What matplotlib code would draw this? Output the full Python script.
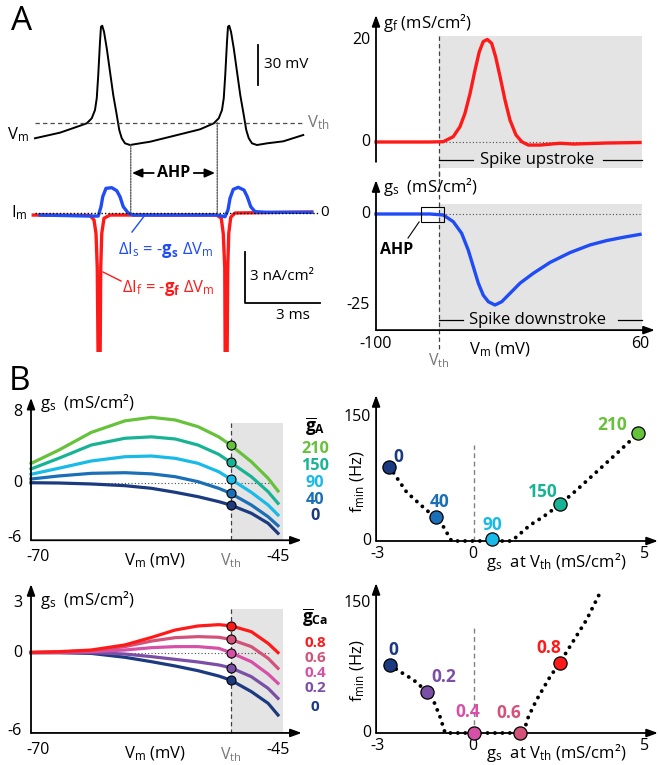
import matplotlib
matplotlib.use("Agg")
import matplotlib.pyplot as plt
from matplotlib.patches import Rectangle, ConnectionPatch

plt.rcParams['font.family'] = ['Open Sans', 'DejaVu Sans']
plt.rcParams['mathtext.fontset'] = 'custom'
plt.rcParams['mathtext.rm'] = 'Open Sans'
plt.rcParams['mathtext.it'] = 'Open Sans:italic'
plt.rcParams['mathtext.bf'] = 'Open Sans:bold'
plt.rcParams['mathtext.default'] = 'regular'

# ---------------- data ----------------
# A, left: membrane potential (ms, mV)
t_vm = [0, 1.0, 1.8, 2.07, 2.27, 2.4, 2.47, 2.53, 2.6, 2.64, 2.69, 2.76, 2.87, 3.0,
        3.13, 3.27, 3.37, 3.47, 3.6, 3.8, 4.2, 4.6, 5.53, 6.6, 7.15, 7.35, 7.48, 7.55,
        7.61, 7.68, 7.72, 7.77, 7.84, 7.95, 8.08, 8.21, 8.35, 8.45, 8.55, 8.68, 8.88,
        9.28, 9.93, 10.73]
vm = [-67.2, -63, -57.8, -56.0, -52.2, -46, -37.2, -19.75, 5.2, 16.5, 17.2, 12.7, 0.3,
      -17.3, -34.75, -49.75, -61, -67.2, -71, -72.25, -71, -69.8, -65.5, -60.5, -56.0,
      -52.2, -46, -37.2, -19.75, 5.2, 16.5, 17.2, 12.7, 0.3, -17.3, -34.75, -49.75, -61,
      -67.2, -71, -72.25, -71, -69.5, -64.75]
v_th_a = -55.5

# A, left: slow and fast current components (ms, nA/cm2)
t_is = [0.2, 2.2, 2.53, 2.64, 2.71, 2.84, 3.07, 3.27, 3.4, 3.53, 3.73, 3.93, 7.27, 7.6,
        7.72, 7.8, 7.93, 8.13, 8.36, 8.49, 8.63, 8.8, 9.27, 11.07]
i_s = [-0.12, -0.18, -0.18, 0.37, 0.96, 1.45, 1.49, 1.31, 0.96, 0.37, 0, -0.12, -0.12,
       -0.22, 0.18, 0.86, 1.39, 1.51, 1.35, 0.96, 0.37, 0.08, 0.04, 0.04]
t_if = [-0.07, 2.2, 2.36, 2.44, 2.49, 2.53, 2.6, 2.63, 2.67, 2.76, 3.0, 7.27, 7.45, 7.53,
        7.59, 7.61, 7.68, 7.71, 7.75, 7.83, 8.0, 11.07]
i_f = [-0.12, -0.14, -0.41, -1.2, -3.2, -9.5, -9.5, -3.2, -1.2, -0.31, -0.12, -0.12,
       -0.31, -1.2, -3.2, -9.5, -9.5, -3.2, -1.2, -0.25, 0.0, 0.06]

# A, right: conductances vs Vm (mV, mS/cm2)
v_gf = [-100, -67.3, -59.2, -53.2, -49.1, -46.1, -43, -40, -37.4, -35, -32.5, -29.9,
        -27.5, -24.8, -21.8, -18.8, -15.2, -11.7, -7.7, -0.6, 11.5, 19.6, 39.8, 60]
g_f = [0, 0, 0.06, 1.04, 3.0, 5.6, 9.5, 14.1, 17.7, 19.7, 20.1, 19.35, 16.7, 12.8, 8.2,
       4.3, 1.4, 0.06, -0.6, -0.6, -0.25, -0.4, -0.2, -0.1]
v_gs = [-100, -67.3, -59.2, -53.2, -48.1, -44.1, -41, -38, -35, -31.9, -27.9, -23.8,
        -18.8, -12.7, -4.7, 5.5, 17.6, 29.7, 39.8, 49.9, 60]
g_s = [0, 0, -0.27, -2.1, -5.3, -9.9, -14.5, -19, -22.3, -24.1, -25, -24.1, -21.8, -19,
       -16.3, -13.3, -10.6, -8.5, -7.3, -6.4, -5.6]
v_th_gate = -62

# B, left: g_s vs Vm for several maximal conductances
v_b = [-70, -67.2, -63.9, -60.5, -57.8, -55.4, -53.1, -51.0, -49.8, -47.7, -46.0, -45]
v_th_b = -49.8
i_th = 8
ga_labels = ['0', '40', '90', '150', '210']
gs_ga_0 = [0.03, 0, -0.11, -0.3, -0.6, -1.05, -1.54, -2.1, -2.48, -3.41, -4.54, -5.67]
gs_ga_40 = [0.45, 0.79, 1.09, 1.16, 1.03, 0.71, 0.15, -0.6, -1.16, -2.48, -3.8, -4.81]
gs_ga_90 = [0.98, 1.66, 2.48, 2.96, 3.04, 2.78, 2.22, 1.27, 0.45, -1.05, -2.48, -3.6]
gs_ga_150 = [1.58, 2.78, 4.28, 5.04, 5.2, 4.96, 4.28, 3.23, 2.33, 0.71, -0.98, -2.29]
gs_ga_210 = [2.2, 3.7, 5.7, 7.0, 7.4, 7.1, 6.35, 5.2, 4.28, 2.4, 0.53, -0.9]
ga_colors = ['#1c3a80', '#1a6fb6', '#18bae8', '#18b394', '#66c23a']

gca_labels = ['0', '0.2', '0.4', '0.6', '0.8']
gs_gca_0 = [0.03, 0.03, -0.03, -0.33, -0.67, -1.0, -1.36, -1.77, -2.08, -2.97, -3.87,
            -4.77]
gs_gca_02 = [0.03, 0.03, 0.03, -0.08, -0.28, -0.49, -0.69, -0.92, -1.13, -1.82, -2.72,
             -3.49]
gs_gca_04 = [0.03, 0.05, 0.1, 0.23, 0.41, 0.49, 0.49, 0.36, 0.03, -0.67, -1.62, -2.33]
gs_gca_06 = [0.05, 0.08, 0.18, 0.49, 0.92, 1.18, 1.26, 1.21, 1.05, 0.49, -0.41, -1.18]
gs_gca_08 = [0.05, 0.1, 0.23, 0.62, 1.2, 1.77, 2.08, 2.18, 2.1, 1.64, 0.74, 0.03]
gca_colors = ['#1c3a80', '#7b4fa6', '#d650a8', '#d2527a', '#ff1a1a']

# B, right: minimal firing rate vs g_s at threshold
fa_g = [-2.49, -1.13, 0.52, 2.53, 4.83]
fa_f = [89.9, 29.4, 2, 44.3, 130.2]
fa_curve_g = [-2.49, -1.98, -1.39, -1.13, -0.9, -0.66, 1.11, 1.65, 2.04, 2.53, 3.02,
              3.61, 4.2, 4.83]
fa_curve_f = [89.9, 59, 37, 29.4, 17.3, 0, 0, 19.3, 29.4, 44.3, 61.7, 83.8, 106, 130.2]
fa_label_pos = [(-2.24, 101.6), (-1.0, 47.2), (0.53, 19.3), (2.03, 59.2), (4.06, 140.3)]

fc_g = [-2.47, -1.39, 0.01, 1.35, 2.53]
fc_f = [78.6, 47.8, 0, 0, 81.3]
fc_curve_g = [-2.47, -2.18, -1.78, -1.39, -1.2, -1.0, -0.85, 1.45, 1.6, 1.84, 2.24,
              2.53, 2.82, 3.31, 3.76]
fc_curve_f = [78.6, 70.9, 61.3, 47.8, 38.2, 18.8, 0, 0, 18.8, 38.2, 65.1, 81.3, 99.7,
              130.6, 166]
fc_label_pos = [(-2.37, 96), (-0.9, 64.4), (-0.17, 24.6), (1.01, 23.5), (2.19, 97.9)]

# ---------------- layout helpers ----------------
W, H = 658, 765
fig = plt.figure(figsize=(W / 100, H / 100), dpi=100)

GRAY = '#e4e4e4'
THGRAY = '#777777'
BLUE = '#1f4cf5'
RED = '#ff1a1a'
FS = 10.5


def span(p0, p1, pa, va, pb, vb):
    s = (vb - va) / (pb - pa)
    return va + (p0 - pa) * s, va + (p1 - pa) * s


def px_axes(x0, y0, x1, y1, xa, xb, ya, yb):
    ax = fig.add_axes([x0 / W, 1 - y1 / H, (x1 - x0) / W, (y1 - y0) / H])
    ax.set_xlim(span(x0, x1, *xa, *xb))
    ax.set_ylim(span(y1, y0, *ya, *yb))
    ax.axis('off')
    return ax


def arrow(ax, x0, y0, x1, y1):
    ax.annotate('', xy=(x1, y1), xytext=(x0, y0), annotation_clip=False,
                arrowprops=dict(arrowstyle='-|>,head_length=0.55,head_width=0.2',
                                color='k', lw=1.3, shrinkA=0, shrinkB=0,
                                mutation_scale=12))


def dashed_v(ax, x, y0, y1, color='0.25'):
    ax.plot([x, x], [y0, y1], color=color, lw=0.9, ls=(0, (3.5, 2.5)), clip_on=False,
            zorder=1)


# ---------------- A: voltage trace ----------------
ax_v = px_axes(10, 10, 335, 185, (35, 0), (285, 10), (122, -55), (162, -85))
ax_v.plot(t_vm, vm, color='k', lw=1.4, solid_joinstyle='round')
ax_v.plot([0, 10.8], [v_th_a, v_th_a], color='0.3', lw=0.9, ls=(0, (3.5, 2.5)))
ax_v.text(-0.68, -64.5, 'V$_{m}$', fontsize=12, ha='center', va='center')
ax_v.text(10.88, v_th_a, 'V$_{th}$', fontsize=12, ha='left', va='center', color=THGRAY)
ax_v.plot([8.92, 8.92], [-27, 3], color='k', lw=1.3)
ax_v.text(9.15, -12, '30 mV', fontsize=FS + 0.5, ha='left', va='center')
y_ahp = -93.25
ax_v.text(5.56, y_ahp, 'AHP', fontsize=FS + 1, fontweight='bold', ha='center', va='center')
for x_from, x_to in [(4.75, 3.88), (6.35, 7.2)]:
    ax_v.annotate('', xy=(x_to, y_ahp), xytext=(x_from, y_ahp), annotation_clip=False,
                  arrowprops=dict(arrowstyle='-|>,head_length=0.5,head_width=0.22',
                                  color='k', lw=1.3, shrinkA=0, shrinkB=0,
                                  mutation_scale=12))

# ---------------- A: currents ----------------
ax_i = px_axes(10, 185, 335, 352, (35, 0), (285, 10), (213, 0), (264, -3))
ax_i.plot(t_if, i_f, color=RED, lw=2.4, zorder=2, solid_joinstyle='round')
ax_i.plot(t_is, i_s, color=BLUE, lw=2.4, zorder=3, solid_joinstyle='round')
ax_i.plot([0, 11.3], [0, 0], color='k', lw=1.0, ls=(0, (1, 1.5)), zorder=4)
ax_i.text(-0.64, 0, 'I$_{m}$', fontsize=12, ha='center', va='center')
ax_i.text(11.6, 0, '0', fontsize=FS + 0.5, ha='center', va='center')
ax_i.plot([8.4, 8.4, 11.4], [-2.29, -5.29, -5.29], color='k', lw=1.3)
ax_i.text(8.6, -3.75, '3 nA/cm²', fontsize=FS + 0.5, ha='left', va='center')
ax_i.text(10.32, -6.05, '3 ms', fontsize=FS + 0.5, ha='center', va='center')
ax_i.plot([3.88, 4.4], [-1.12, -0.12], color=BLUE, lw=1)
ax_i.text(3.3, -2.2, 'ΔI$_{s}$ = -$\\mathbf{g_{s}}$ ΔV$_{m}$', fontsize=12, color=BLUE,
          ha='left', va='center')
ax_i.plot([2.72, 3.44], [-3.47, -4.0], color=RED, lw=1)
ax_i.text(3.46, -4.41, 'ΔI$_{f}$ = -$\\mathbf{g_{f}}$ ΔV$_{m}$', fontsize=12, color=RED,
          ha='left', va='center')

for t_x, v_y in [(3.83, -72.25), (7.29, v_th_a)]:
    cp = ConnectionPatch(xyA=(t_x, v_y), coordsA=ax_v.transData,
                         xyB=(t_x, 0), coordsB=ax_i.transData,
                         color='0.35', lw=1.0, ls=(0, (1, 1)))
    fig.add_artist(cp)

# ---------------- A: g_f ----------------
ax_f = px_axes(345, 10, 660, 172, (376, -100), (640, 60), (142, 0), (40, 20))
ax_f.add_patch(Rectangle((v_th_gate, -5.1), 61 - v_th_gate, 25.9, color=GRAY, lw=0,
                         zorder=0))
dashed_v(ax_f, v_th_gate, 20.8, -7.5)
ax_f.plot([v_th_gate, 60], [0, 0], color='0.3', lw=0.8, ls=(0, (1, 2)))
ax_f.plot(v_gf, g_f, color=RED, lw=2.4, solid_joinstyle='round')
arrow(ax_f, -100, -3.9, -100, 24.9)
ax_f.text(-103.5, 20, '20', fontsize=FS + 1, ha='right', va='center')
ax_f.text(-103.5, 0, '0', fontsize=FS + 1, ha='right', va='center')
ax_f.text(-95.8, 23.3, 'g$_{f}$ (mS/cm²)', fontsize=FS + 1.5, ha='left', va='center')
ax_f.text(-2.4, -3.5, 'Spike upstroke', fontsize=FS + 1.5, ha='center', va='center')
ax_f.plot([v_th_gate, -41.2], [-3.5, -3.5], color='k', lw=0.9)
ax_f.plot([37.6, 61], [-3.5, -3.5], color='k', lw=0.9)

# ---------------- A: g_s ----------------
ax_s = px_axes(345, 172, 660, 370, (376, -100), (640, 60), (214, 0), (305, -25))
ax_s.add_patch(Rectangle((v_th_gate, -31.9), 61 - v_th_gate, 34.65, color=GRAY, lw=0,
                         zorder=0))
dashed_v(ax_s, v_th_gate, 11.5, -37.4)
ax_s.plot([v_th_gate, 60], [0, 0], color='0.3', lw=0.8, ls=(0, (1, 2)))
ax_s.plot(v_gs, g_s, color=BLUE, lw=2.4, solid_joinstyle='round')
arrow(ax_s, -100, -31.9, -100, 9.3)
arrow(ax_s, -100, -31.9, 69, -31.9)
ax_s.text(-103.5, 0, '0', fontsize=FS + 1, ha='right', va='center')
ax_s.text(-103.5, -25, '-25', fontsize=FS + 1, ha='right', va='center')
ax_s.text(-100, -35.6, '-100', fontsize=FS + 1, ha='center', va='center')
ax_s.text(60, -35.6, '60', fontsize=FS + 1, ha='center', va='center')
ax_s.text(-24.8, -37.3, 'V$_{m}$ (mV)', fontsize=FS + 1.5, ha='center', va='center')
ax_s.text(v_th_gate, -40.3, 'V$_{th}$', fontsize=FS + 1, ha='center', va='center',
          color=THGRAY)
ax_s.text(-95.8, 7.3, 'g$_{s}$  (mS/cm²)', fontsize=FS + 1.5, ha='left', va='center')
ax_s.add_patch(Rectangle((-73, -2.2), 14, 4.1, fill=False, lw=0.8, ec='k', zorder=3))
ax_s.plot([-73.9, -80.6], [-2.2, -6.6], color='k', lw=0.8)
ax_s.text(-87.3, -9.9, 'AHP', fontsize=FS + 1, fontweight='bold', ha='center',
          va='center')
ax_s.text(-2.4, -29.1, 'Spike downstroke', fontsize=FS + 1.5, ha='center', va='center')
ax_s.plot([v_th_gate, -47.3], [-29.1, -29.1], color='k', lw=0.9)
ax_s.plot([46.7, 61], [-29.1, -29.1], color='k', lw=0.9)


# ---------------- B: g_s curves ----------------
def gs_panel(y0, y1, ya, yb, curves, colors, labels, title, g_axis, g_top, g_gray,
             ticks, label_y, title_y, glabel_y, lab_fs):
    ax = px_axes(5, y0, 335, y1, (31, -70), (278, -45), ya, yb)
    ax.add_patch(Rectangle((v_th_b, g_axis), 5.3, g_gray - g_axis, color=GRAY, lw=0,
                           zorder=0))
    dashed_v(ax, v_th_b, g_gray, g_axis)
    ax.plot([-70, -45.8], [0, 0], color='0.3', lw=0.8, ls=(0, (1, 2)), zorder=1)
    for vals, c in zip(curves, colors):
        ax.plot(v_b, vals, color=c, lw=2.3, zorder=2, solid_joinstyle='round')
    for vals, c in zip(curves, colors):
        ax.plot(v_th_b, vals[i_th], 'o', ms=6.5, mfc=c, mec='k', mew=0.8, zorder=4)
    arrow(ax, -70, g_axis, -70, g_top)
    arrow(ax, -70, g_axis, -42.6, g_axis)
    for val, txt in ticks:
        ax.text(-70.9, val, txt, fontsize=FS + 1, ha='right', va='center')
    ax.text(-69.1, glabel_y, 'g$_{s}$  (mS/cm²)', fontsize=FS + 1.5, ha='left',
            va='center')
    ax.text(-41.25, title_y, title, fontsize=FS + 2, ha='center', va='center')
    for txt, c, yy in zip(labels, colors, label_y):
        ax.text(-41.25, yy, txt, fontsize=lab_fs, fontweight='bold', color=c,
                ha='center', va='center')
    return ax


ax_ga = gs_panel(392, 575, (483, 0), (412, 8),
                 [gs_ga_0, gs_ga_40, gs_ga_90, gs_ga_150, gs_ga_210], ga_colors,
                 ga_labels, '$\\overline{\\mathbf{g}}_{\\mathbf{A}}$', -6.45, 9.6, 6.8,
                 [(8, '8'), (0, '0'), (-6.2, '-6')],
                 [-3.72, -1.92, 0, 1.92, 3.83], 6.4, 9.0, FS + 1.2)
ax_gca = gs_panel(578, 765, (653, 0), (731, -6),
                  [gs_gca_0, gs_gca_02, gs_gca_04, gs_gca_06, gs_gca_08], gca_colors,
                  gca_labels, '$\\overline{\\mathbf{g}}_{\\mathbf{Ca}}$', -6.15, 5.3,
                  3.38, [(3.85, '3'), (0, '0'), (-6.0, '-6')],
                  [-4.15, -2.69, -1.54, -0.38, 0.77], 2.77, 4.08, FS + 0.5)

for ax, ytxt, dy in [(ax_ga, -8.3, 0.45), (ax_gca, -7.45, 0.34)]:
    ax.text(-69.3, ytxt, '-70', fontsize=FS + 1, ha='center', va='center')
    ax.text(-45, ytxt, '-45', fontsize=FS + 1, ha='center', va='center')
    ax.text(-57.4, ytxt - dy, 'V$_{m}$ (mV)', fontsize=FS + 1.5, ha='center',
            va='center')
    ax.text(v_th_b, ytxt - dy, 'V$_{th}$', fontsize=FS + 1, ha='center', va='center',
            color=THGRAY)


# ---------------- B: f_min ----------------
def fmin_panel(y0, y1, ya, yb, cg, cf, mg, mf, colors, labels, lpos, f_top, dash_top,
               ytick_lab, xlab_y):
    ax = px_axes(340, y0, 660, y1, (474, 0), (508, 1), ya, yb)
    ax.plot([0, 0], [0, dash_top], color='0.5', lw=1.0, ls=(0, (3.5, 2.5)), zorder=1)
    ax.plot(cg, cf, color='k', lw=2.8, ls=(0, (0.01, 1.9)), dash_capstyle='round',
            zorder=2, clip_on=False)
    for g, f, c in zip(mg, mf, colors):
        ax.plot(g, f, 'o', ms=9.5, mfc=c, mec='k', mew=0.9, zorder=4, clip_on=False)
    for (g, f), c, txt in zip(lpos, colors, labels):
        ax.text(g, f, txt, fontsize=FS + 2, fontweight='bold', color=c, ha='center',
                va='center')
    arrow(ax, -2.88, 0, -2.88, f_top)
    arrow(ax, -2.88, 0, 5.41, 0)
    ax.text(-3.03, 150, '150', fontsize=FS + 1, ha='right', va='center')
    ax.text(-3.03, 0, '0', fontsize=FS + 1, ha='right', va='center')
    for g, txt in [(-2.85, '-3'), (-0.03, '0'), (5.03, '5')]:
        ax.text(g, ytick_lab, txt, fontsize=FS + 1, ha='center', va='center')
    ax.text(-3.41, 72, 'f$_{min}$ (Hz)', fontsize=FS + 1.5, rotation=90, ha='center',
            va='center')
    ax.text(2.41, xlab_y, 'g$_{s}$  at V$_{th}$ (mS/cm²)', fontsize=FS + 1.5,
            ha='center', va='center')
    return ax


fmin_panel(392, 575, (541, 0), (417, 150), fa_curve_g, fa_curve_f, fa_g, fa_f,
           ga_colors, ga_labels, fa_label_pos, 176.5, 116, -15.5, -26)
fmin_panel(578, 765, (733, 0), (603, 150), fc_curve_g, fc_curve_f, fc_g, fc_f,
           gca_colors, gca_labels, fc_label_pos, 173, 124.6, -15.5, -23)

fig.text(22 / W, 1 - 22 / H, 'A', fontsize=24, ha='center', va='center')
fig.text(20 / W, 1 - 382 / H, 'B', fontsize=24, ha='center', va='center')

fig.savefig('out.png', dpi=100)
